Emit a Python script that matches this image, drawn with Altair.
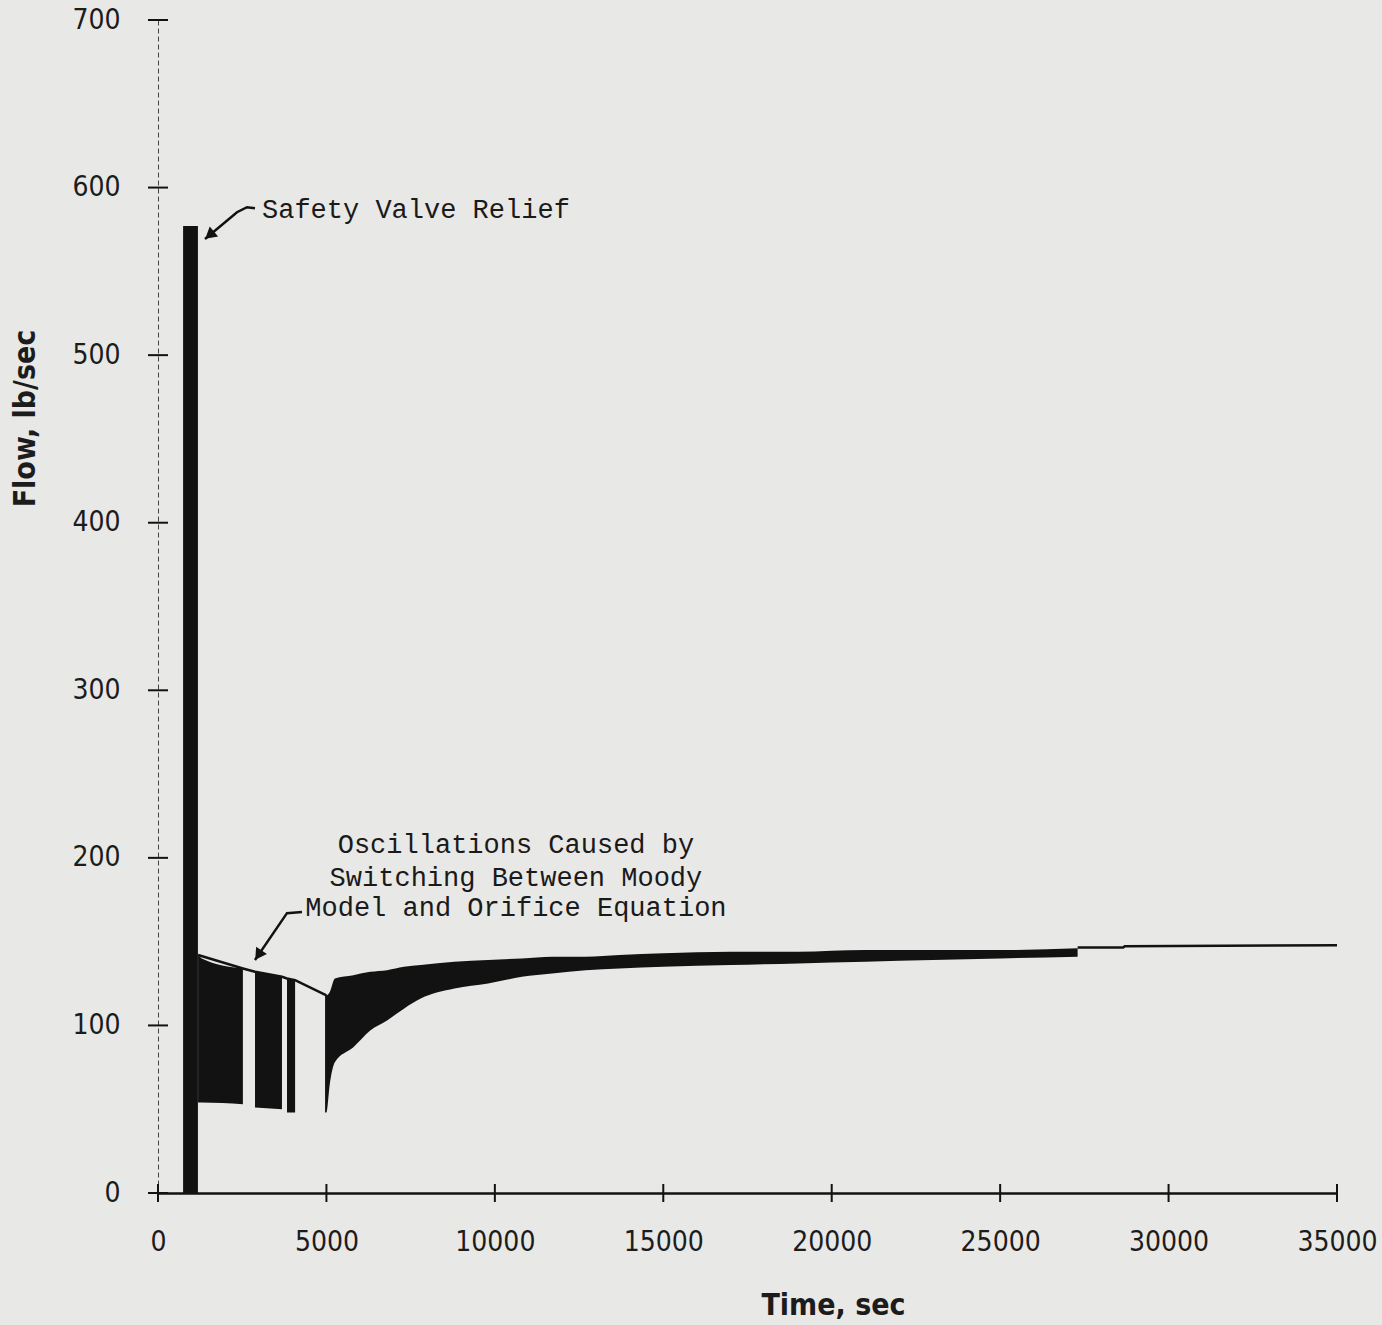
import altair as alt
import pandas as pd

# ---------------- data ----------------
x_ticks = [0, 5000, 10000, 15000, 20000, 25000, 30000, 35000]
y_ticks = [0, 100, 200, 300, 400, 500, 600, 700]

# filled oscillation envelopes (time, lower, upper)
spike_t = [745, 1185]
spike_lo = [0, 0]
spike_hi = [577, 577]

band1_t = [1190, 1300, 2520]
band1_lo = [54, 54, 53]
band1_hi = [142, 140, 134]

band2_t = [2880, 3680]
band2_lo = [51, 50]
band2_hi = [132, 129]

band3_t = [3830, 4070]
band3_lo = [48, 48]
band3_hi = [128, 127]

main_t = [4960, 5000, 5100, 5250, 5800, 6300, 6800, 7300, 7800, 8800, 9800,
          10800, 11700, 12700, 13700, 15000, 17000, 19000, 21000, 23000, 25000, 27300]
main_lo = [48, 48, 65, 78, 87, 97, 103, 110, 116, 122, 125,
           129, 131, 133, 134, 135, 136, 137, 138, 139, 140, 141]
main_hi = [119, 118, 120, 128, 130, 132, 133, 135, 136, 138, 139,
           140, 141, 141, 142, 143, 144, 144, 145, 145, 145, 146]

# single-valued flow line segments
line1_t = [1190, 2520, 2880, 3680, 3830, 4070, 5000]
line1_v = [142, 134, 132, 129, 128, 127, 118]
line2_t = [27300, 28650, 28700, 35000]
line2_v = [146.5, 146.5, 147.3, 147.8]

# annotation arrows (data units)
arrow1_t = [2879, 2642, 2345, 1395]
arrow1_v = [587.7, 588.3, 585.3, 569.3]
arrow2_t = [4274, 3829, 2879]
arrow2_v = [167.7, 167.0, 139.0]
head_t = [1531, 2980]
head_v = [571.6, 142.0]
head_angle = [230, 214]

safety_label = ["Safety Valve Relief"]
safety_t = [3087]
safety_v = [586.5]

osc_lines = ["Oscillations Caused by", "Switching Between Moody", "Model and Orifice Equation"]
osc_t = [10626, 10626, 10626]
osc_v = [207.6, 187.9, 170.0]

# ---------------- build tables ----------------
rows = []
for name, ts, los, his in [("spike", spike_t, spike_lo, spike_hi),
                           ("b1", band1_t, band1_lo, band1_hi),
                           ("b2", band2_t, band2_lo, band2_hi),
                           ("b3", band3_t, band3_lo, band3_hi),
                           ("main", main_t, main_lo, main_hi)]:
    for t, lo, hi in zip(ts, los, his):
        rows.append({"seg": name, "t": t, "lo": lo, "hi": hi})
band_df = pd.DataFrame(rows)

lrows = []
for name, ts, vs in [("l1", line1_t, line1_v), ("l2", line2_t, line2_v),
                     ("a1", arrow1_t, arrow1_v), ("a2", arrow2_t, arrow2_v)]:
    for i, (t, v) in enumerate(zip(ts, vs)):
        lrows.append({"seg": name, "t": t, "v": v, "o": i})
line_df = pd.DataFrame(lrows)

head_df = pd.DataFrame({"t": head_t, "v": head_v, "ang": head_angle})
safety_df = pd.DataFrame({"t": safety_t, "v": safety_v, "label": safety_label})
osc_df = pd.DataFrame({"t": osc_t, "v": osc_v, "label": osc_lines})
xt_df = pd.DataFrame({"t": x_ticks})
yt_df = pd.DataFrame({"v": y_ticks})

# ---------------- styling ----------------
W, H = 1179, 1173
INK = "#121212"
AX_FONT = "Liberation Sans Narrow, DejaVu Sans Condensed, Arial Narrow, sans-serif"
MONO = "Liberation Mono, DejaVu Sans Mono, Courier New, monospace"
X_TITLE = "Time, sec"
Y_TITLE = "Flow, lb/sec"

xs = alt.Scale(domain=[0, 35000], nice=False, zero=False)
ys = alt.Scale(domain=[0, 700], nice=False, zero=False)

x_axis = alt.Axis(values=x_ticks, format="d", ticks=False, tickSize=0, grid=False,
                  domainColor=INK, domainWidth=2.5,
                  labelFont=AX_FONT, labelFontSize=28, labelColor="#1c1c1c",
                  labelPadding=35, labelFlush=False, labelOverlap=False,
                  titleFont=AX_FONT, titleFontSize=30,
                  titleFontWeight="bold", titleColor="#1c1c1c",
                  titleX=675, titleY=112, titleBaseline="middle")
y_axis = alt.Axis(values=y_ticks, format="d", ticks=False, tickSize=0, grid=False,
                  domainColor="#444444", domainWidth=1, domainDash=[5, 3],
                  labelFont=AX_FONT, labelFontSize=28, labelColor="#1c1c1c",
                  labelPadding=38, labelFlush=False, labelOverlap=False,
                  titleFont=AX_FONT, titleFontSize=30,
                  titleFontWeight="bold", titleColor="#1c1c1c",
                  titleX=-133, titleY=398, titleAngle=270,
                  titleAlign="center", titleBaseline="middle")


def X(field):
    return alt.X(field, scale=xs, title=X_TITLE)


def Y(field):
    return alt.Y(field, scale=ys, title=Y_TITLE)


bands = alt.Chart(band_df).mark_area(color=INK, opacity=1, interpolate="monotone").encode(
    x=alt.X("t:Q", scale=xs, axis=x_axis, title=X_TITLE),
    y=alt.Y("lo:Q", scale=ys, axis=y_axis, title=Y_TITLE),
    y2="hi:Q",
    detail="seg:N",
)

lines = alt.Chart(line_df).mark_line(color=INK, strokeWidth=2.5).encode(
    x=X("t:Q"),
    y=Y("v:Q"),
    detail="seg:N",
    order="o:Q",
)

heads = alt.Chart(head_df).mark_point(shape="triangle-up", filled=True, color=INK,
                                      size=170, opacity=1).encode(
    x=X("t:Q"),
    y=Y("v:Q"),
    angle=alt.Angle("ang:Q", scale=None),
)

safety = alt.Chart(safety_df).mark_text(font=MONO, fontSize=27, align="left",
                                         baseline="middle", color="#1a1a1a").encode(
    x=X("t:Q"),
    y=Y("v:Q"),
    text="label:N",
)

osc = alt.Chart(osc_df).mark_text(font=MONO, fontSize=27, align="center",
                                   baseline="middle", color="#1a1a1a").encode(
    x=X("t:Q"),
    y=Y("v:Q"),
    text="label:N",
)

yticks = alt.Chart(yt_df).mark_rule(color=INK, strokeWidth=2).encode(
    y=Y("v:Q"),
    x=alt.value(-10),
    x2=alt.value(10),
)
xticks = alt.Chart(xt_df).mark_rule(color=INK, strokeWidth=2).encode(
    x=X("t:Q"),
    y=alt.value(H - 9),
    y2=alt.value(H + 9),
)

chart = alt.layer(bands, lines, heads, safety, osc, yticks, xticks).properties(
    width=W, height=H,
    padding={"left": 158, "top": 20, "right": 45, "bottom": 132},
    autosize=alt.AutoSizeParams(type="none"),
    background="#e8e8e6",
).configure_view(stroke=None)

chart.save("out.html", embed_options={"renderer": "svg", "actions": False})
